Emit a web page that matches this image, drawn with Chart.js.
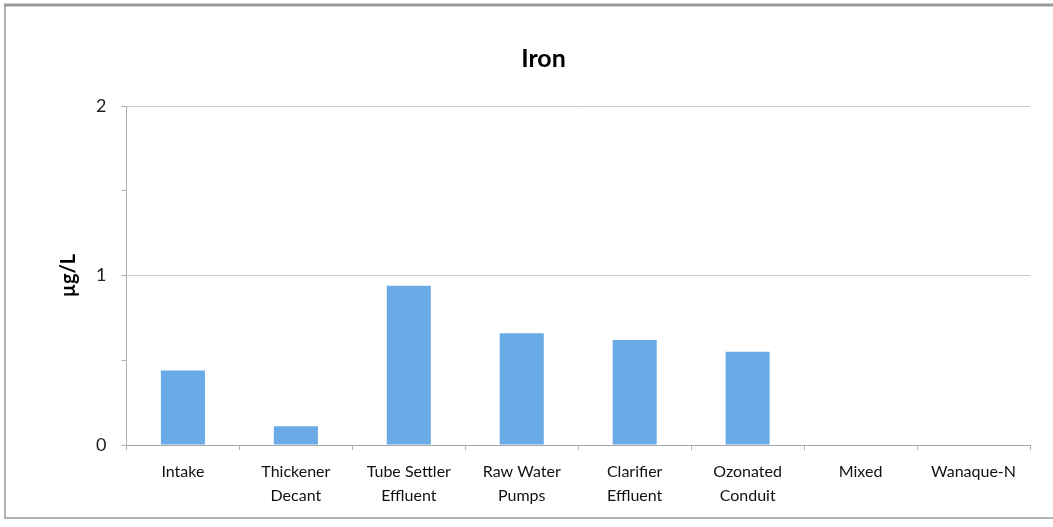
<!DOCTYPE html>
<html><head><meta charset="utf-8">
<script src="https://cdn.jsdelivr.net/npm/chart.js@4"></script>
<style>html,body{margin:0;padding:0;background:#fff;}#wrap{width:1053px;height:527px;position:relative;}</style>
</head><body>
<div id="wrap"><canvas id="c" width="1053" height="527"></canvas></div>
<script>
const categories = [["Intake"],["Thickener","Decant"],["Tube Settler","Effluent"],["Raw Water","Pumps"],["Clarifier","Effluent"],["Ozonated","Conduit"],["Mixed"],["Wanaque-N"]];
const ironValues = [0.44, 0.11, 0.94, 0.66, 0.62, 0.55, 0, 0];
const yTicks = [0, 1, 2];
const chartTitle = "Iron";
const yAxisTitle = "µg/L";

const frame = {
  id: 'frame',
  beforeDraw(chart) {
    const ctx = chart.ctx;
    ctx.save();
    ctx.fillStyle = '#fff';
    ctx.fillRect(0, 0, chart.width, chart.height);
    ctx.strokeStyle = '#9a9a9a';
    ctx.lineWidth = 3;
    ctx.beginPath(); ctx.moveTo(4, 5); ctx.lineTo(1053, 5); ctx.stroke();
    ctx.lineWidth = 1.5;
    ctx.beginPath(); ctx.moveTo(5, 5); ctx.lineTo(5, 518); ctx.lineTo(1053, 518); ctx.stroke();
    ctx.restore();
  }
};

new Chart(document.getElementById('c'), {
  type: 'bar',
  data: {
    labels: categories,
    datasets: [{ data: ironValues, backgroundColor: '#6aaae6', borderWidth: 0,
      categoryPercentage: 1, barPercentage: 0.39 }]
  },
  options: {
    responsive: false, animation: false,
    layout: { padding: { left: 57, right: 23, top: 28, bottom: 9 } },
    plugins: {
      legend: { display: false },
      tooltip: { enabled: false },
      title: { display: true, text: chartTitle, color: '#000',
        font: { family: 'Lato, "Open Sans", sans-serif', size: 25, weight: 'bold' },
        padding: { top: 16, bottom: 32 } }
    },
    scales: {
      y: {
        min: 0, max: 2,
        afterBuildTicks: (axis) => { axis.ticks = [0, 0.5, 1, 1.5, 2].map(v => ({ value: v })); },
        ticks: { color: '#222', padding: 15,
          font: { family: 'Lato, "Open Sans", sans-serif', size: 18 },
          callback: (v) => yTicks.includes(v) ? String(v) : '' },
        grid: {
          color: (c) => (c.tick && yTicks.includes(c.tick.value) && c.tick.value !== 0) ? '#c8c8c8' : 'rgba(0,0,0,0)',
          tickColor: '#b0b0b0', tickLength: 5, drawTicks: true
        },
        border: { display: true, color: '#b0b0b0', width: 1 },
        title: { display: true, text: yAxisTitle, color: '#000',
          font: { family: 'Lato, "Open Sans", sans-serif', size: 20, weight: 'bold' }, padding: { top: 0, bottom: 0 } }
      },
      x: {
        ticks: { color: '#111', padding: 10, maxRotation: 0, autoSkip: false,
          font: { family: 'Lato, "Open Sans", sans-serif', size: 16, lineHeight: 1.5 } },
        grid: { offset: true, drawOnChartArea: false, drawTicks: true, tickLength: 5, tickColor: '#b0b0b0' },
        border: { display: true, color: '#a8a8a8', width: 1 }
      }
    }
  },
  plugins: [frame]
});
</script>
</body></html>
